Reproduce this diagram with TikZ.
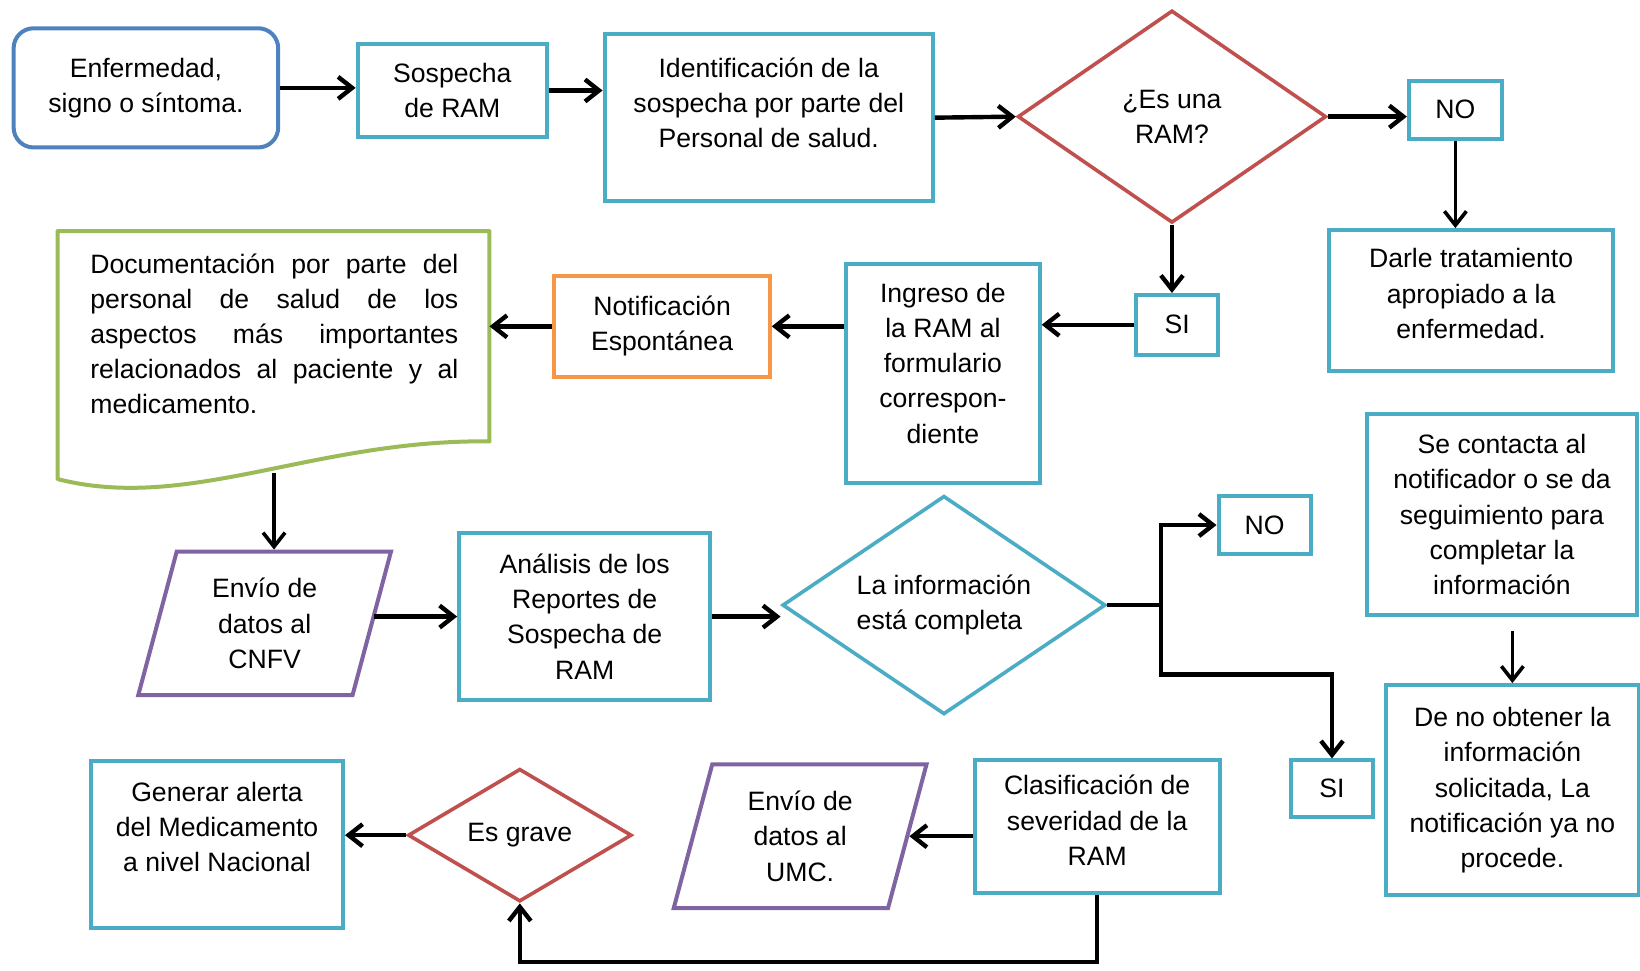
\documentclass[tikz,border=0pt]{standalone}
\usepackage{fontspec}
\setmainfont{Liberation Sans}
\usetikzlibrary{shapes.geometric,arrows.meta}
\definecolor{ramBlue}{HTML}{4F81BD}
\definecolor{ramTeal}{HTML}{4BACC6}
\definecolor{ramRed}{HTML}{C0504D}
\definecolor{ramOrange}{HTML}{F79646}
\definecolor{ramGreen}{HTML}{9BBB59}
\definecolor{ramPurple}{HTML}{8064A2}
\begin{document}
\begin{tikzpicture}[x=0.523pt,y=-0.523pt,
  every node/.style={align=center,font=\fontsize{13.3}{17.6}\selectfont,inner sep=2pt},
  box/.style={draw=ramTeal,line width=2pt},
  decision/.style={diamond,draw=ramRed,line width=1.8pt,aspect=1.45,inner sep=0pt},
  data/.style={trapezium,trapezium left angle=75,trapezium right angle=105,
    inner xsep=17.7pt,inner ysep=13.35pt,draw=ramPurple,line width=2pt},
  flow/.style={-{Straight Barb[length=7pt,width=11pt]},line width=2.2pt}]

\useasboundingbox (0,0) rectangle (1568,928);

% Position the nodes at their places in the chart
\node[box,draw=ramBlue,rounded corners=10pt,minimum width=132.3pt,minimum height=59.6pt] (enfermedad) at (139.5,84) {Enfermedad,\\ signo o síntoma.};
\node[box,minimum width=94.7pt,minimum height=46.5pt] (sospecha) at (432.5,86.5) {Sospecha\\ de RAM};
\node[box,minimum width=164.2pt,minimum height=83.2pt] (identificacion) at (735,112.5) {Identificación de la\\ sospecha por parte del\\ Personal de salud.\\[-2.4pt]\mbox{}};
\node[decision,minimum width=154.3pt,minimum height=106.2pt] (esRam) at (1120.5,111.5) {¿Es una\\ RAM?};
\node[box,minimum width=46.5pt,minimum height=29.3pt] (noRam) at (1391.5,105) {NO};
\node[box,minimum width=141.7pt,minimum height=70.6pt] (tratamiento) at (1406.5,287.5) {Darle tratamiento\\ apropiado a la\\ enfermedad.\\[-10.3pt]\mbox{}};
\node[box,minimum width=41.3pt,minimum height=29.8pt] (siRam) at (1125.5,310.5) {SI};
\node[box,minimum width=96.8pt,minimum height=109.8pt] (ingreso) at (901.5,357) {Ingreso de\\ la RAM al\\ formulario\\ correspon-\\ diente\\[-7.2pt]\mbox{}};
\node[box,draw=ramOrange,minimum width=107.7pt,minimum height=50.7pt] (notificacion) at (633,312) {Notificación\\ Espontánea};

% document shape drawn by hand
\coordinate (docNE) at (468,221);
\coordinate (docbot) at (262,452);
\draw[ramGreen,line width=2pt,line join=round] (55,221) -- (docNE) -- (468,422)
  .. controls (300,420) and (180,490) .. (55,458) -- cycle;
\node[anchor=north west,text width=184pt,align=justify,inner sep=0pt] (documentacion) at (86,242)
  {Documentación por parte del\linebreak personal de salud de los\linebreak aspectos más importantes\linebreak relacionados al paciente y al\linebreak medicamento.};

\node[data] (envioCnfv) at (253,596) {Envío de\\ datos al\\ CNFV};
\node[box,minimum width=125.5pt,minimum height=83.2pt] (analisis) at (559,589.5) {Análisis de los\\ Reportes de\\ Sospecha de\\ RAM};
\node[decision,draw=ramTeal,align=left,minimum width=161.6pt,minimum height=109.3pt] (completa) at (902.5,578.5) {La información\\ está completa};
\node[box,minimum width=46pt,minimum height=29.3pt] (noInfo) at (1209,502) {NO};
\node[box,minimum width=41.3pt,minimum height=28.2pt] (siInfo) at (1273.5,754) {SI};
\node[box,minimum width=134.9pt,minimum height=100.4pt] (contacto) at (1436,492) {Se contacta al\\ notificador o se da\\ seguimiento para\\ completar la\\ información};
\node[box,minimum width=126.6pt,minimum height=105.1pt] (noProcede) at (1446,755.5) {De no obtener la\\ información\\ solicitada, La\\ notificación ya no\\ procede.};
\node[box,minimum width=122.4pt,minimum height=66.4pt] (clasificacion) at (1049,790.5) {Clasificación de\\ severidad de la\\ RAM\\[-11pt]\mbox{}};
\node[data] (envioUmc) at (765,799.5) {Envío de\\ datos al\\ UMC.};
\node[decision,minimum width=111.9pt,minimum height=66.4pt] (esGrave) at (497,798.5) {Es grave};
\node[box,minimum width=126pt,minimum height=83.2pt] (alerta) at (207.5,807.5) {Generar alerta\\ del Medicamento\\ a nivel Nacional\\ \mbox{}};

% Draw the arrows between the nodes
\coordinate (split) at (1110,578.5);
\coordinate (turn) at (1110,645);
\coordinate (bottomline) at (0,920);
\draw[flow] (enfermedad.east) -- (enfermedad.east -| sospecha.west);
\draw[flow] (sospecha.east) -- (sospecha.east -| identificacion.west);
\draw[flow] (identificacion.east) -- (esRam.west);
\draw[flow] (esRam.east) -- (esRam.east -| noRam.west);
\draw[flow,line width=1.8pt] (noRam.south) -- (noRam.south |- tratamiento.north);
\draw[flow] (esRam.south) -- (esRam.south |- siRam.north);
\draw[flow] (siRam.west) -- (siRam.west -| ingreso.east);
\draw[flow] (ingreso.west |- notificacion.east) -- (notificacion.east);
\draw[flow] (notificacion.west) -- (notificacion.west -| docNE);
\draw[flow,line width=1.8pt] (docbot) -- (docbot |- envioCnfv.north);
\draw[flow] (analisis.west -| envioCnfv.east) -- (analisis.west);
\draw[flow] (analisis.east) -- (analisis.east -| completa.west);
\draw[flow] (completa.east) -- (split) |- (noInfo.west);
\draw[flow] (split) -- (turn) -| (siInfo.north);
\draw[flow,line width=1.8pt,shorten <=7pt] (contacto.south -| noProcede.north) -- (noProcede.north);
\draw[flow] (clasificacion.west |- envioUmc.east) -- (envioUmc.east);
\draw[flow] (clasificacion.south) |- (bottomline -| esGrave.south) -- (esGrave.south);
\draw[flow] (esGrave.west) -- (esGrave.west -| alerta.east);

\end{tikzpicture}
\end{document}
